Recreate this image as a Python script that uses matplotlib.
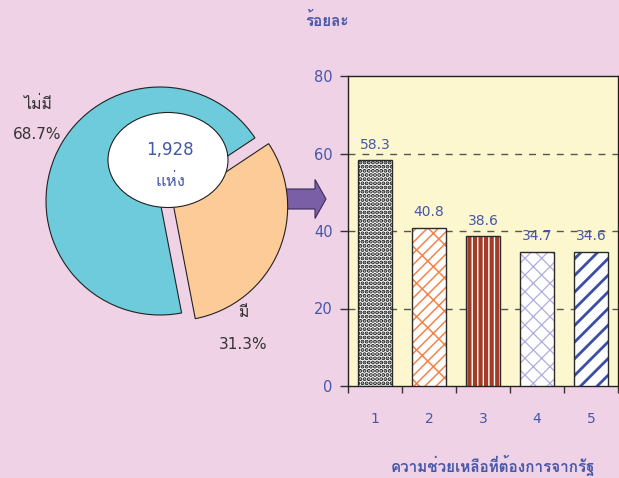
import matplotlib
matplotlib.use("Agg")
import matplotlib.pyplot as plt
import matplotlib.patches as mpatches
from matplotlib import font_manager as fm
from matplotlib.ft2font import FT2Font

# ---------------- data ----------------
pie_labels = ["ไม่มี", "มี"]
pie_values = [68.7, 31.3]
pie_total_label = ["1,928", "แห่ง"]
categories = ["1", "2", "3", "4", "5"]
bar_values = [58.3, 40.8, 38.6, 34.7, 34.6]
y_ticks = [0, 20, 40, 60, 80]
y_title = "ร้อยละ"
x_title = "ความช่วยเหลือที่ต้องการจากรัฐ"

# ---------------- fonts ----------------
thai_font = None
for f in fm.fontManager.ttflist:
    try:
        ft = FT2Font(f.fname)
        if ft.get_char_index(0x0E21) and ft.get_char_index(0x0E48):
            thai_font = f.name
            break
    except Exception:
        pass
fams = ["DejaVu Sans"]
if thai_font:
    fams = ["DejaVu Sans", thai_font]
plt.rcParams["font.family"] = fams

BG = "#f0d2e7"
PLOT_BG = "#fcf7cf"
BLUE = "#4657a8"
DARK = "#333333"

W, H = 619, 478
fig = plt.figure(figsize=(W / 100, H / 100), dpi=100)
fig.patch.set_facecolor(BG)

# ---------------- pie ----------------
R = 114.0
cx, cy = 160.0, 201.0
pl, pr, pt, pb = 0.0, 300.0, 60.0, 380.0
pax = fig.add_axes([pl / W, 1 - pb / H, (pr - pl) / W, (pb - pt) / H])
pax.axis("off")
pax.set_facecolor("none")
pax.set_zorder(2)

wedges, _ = pax.pie(pie_values, startangle=33.6, counterclock=True,
                    colors=["#6ecbdc", "#fccb97"], explode=[0, 0.13],
                    wedgeprops=dict(edgecolor="#222222", linewidth=0.8))
pax.set_xlim((pl - cx) / R, (pr - cx) / R)
pax.set_ylim((cy - pb) / R, (cy - pt) / R)
pax.set_aspect("auto")

def to_data(px, py):
    return (px - cx) / R, (cy - py) / R

ex, ey = to_data(168, 160)
ell = mpatches.Ellipse((ex, ey), 120 / R, 95 / R, facecolor="white",
                       edgecolor="#222222", linewidth=0.8, zorder=5)
pax.add_patch(ell)
tx, ty = to_data(170, 150)
pax.text(tx, ty, pie_total_label[0], ha="center", va="center", fontsize=12,
         color=BLUE, zorder=6)
tx, ty = to_data(170, 181)
pax.text(tx, ty, pie_total_label[1], ha="center", va="center", fontsize=12,
         color=BLUE, zorder=6)

lx, ly = to_data(37, 104)
pax.text(lx, ly, pie_labels[0], ha="center", va="center", fontsize=11.5, color=DARK)
lx, ly = to_data(37, 135)
pax.text(lx, ly, f"{pie_values[0]}%", ha="center", va="center", fontsize=11, color=DARK)
lx, ly = to_data(243, 313)
pax.text(lx, ly, pie_labels[1], ha="center", va="center", fontsize=11.5, color=DARK)
lx, ly = to_data(243, 345)
pax.text(lx, ly, f"{pie_values[1]}%", ha="center", va="center", fontsize=11, color=DARK)

# ---------------- arrow ----------------
arrow = mpatches.FancyArrow(2.86, (H - 199) / 100, 0.29, 0,
                            width=0.20, head_width=0.39, head_length=0.11,
                            length_includes_head=False,
                            facecolor="#7b5fa6", edgecolor="#3b2b5b",
                            linewidth=0.8, transform=fig.dpi_scale_trans,
                            zorder=1)
fig.patches.append(arrow)

# ---------------- bars ----------------
al, ar, at, ab = 348, 618, 76, 386
ax = fig.add_axes([al / W, 1 - ab / H, (ar - al) / W, (ab - at) / H])
ax.set_facecolor(PLOT_BG)
ax.set_zorder(3)
x = list(range(1, len(categories) + 1))

styles = [
    dict(hatch="....", color="#151515", lw=2.0),
    dict(hatch="///\\", color="#f3844a", lw=1.1),
    dict(hatch="|||", color="#a33c26", lw=3.0),
    dict(hatch="xx", color="#aeaedc", lw=0.9),
    dict(hatch="//", color="#3a4ea6", lw=2.0),
]
for xi, v, st in zip(x, bar_values, styles):
    plt.rcParams["hatch.linewidth"] = st["lw"]
    ax.bar(xi, v, width=0.63, facecolor="white", edgecolor=st["color"],
           hatch=st["hatch"], linewidth=0, zorder=3)
    ax.bar(xi, v, width=0.63, fill=False, edgecolor="#2a2a2a",
           linewidth=1.0, zorder=4)
    ax.text(xi, v + 2.2, f"{v}", ha="center", va="bottom", fontsize=10,
            color=BLUE, zorder=5)

ax.set_xlim(0.5, len(categories) + 0.5)
ax.set_ylim(0, 80)
ax.set_yticks(y_ticks)
ax.set_yticklabels([str(t) for t in y_ticks], color=BLUE, fontsize=10.5)
ax.tick_params(axis="y", length=6, width=1, color="#333333", pad=5)
ax.set_xticks(x)
ax.set_xticklabels(categories, color=BLUE, fontsize=10)
ax.tick_params(axis="x", which="major", length=0, pad=19)
ax.set_xticks([i + 0.5 for i in range(0, len(categories) + 1)], minor=True)
ax.tick_params(axis="x", which="minor", length=5, width=1, color="#333333")

for yv in y_ticks[1:-1]:
    ax.axhline(yv, color="#555555", linewidth=1.0, linestyle=(0, (5, 5)), zorder=1)

for s in ax.spines.values():
    s.set_color("#222222")
    s.set_linewidth(1.0)

fig.text(327 / W, 1 - 20 / H, y_title, ha="center", va="center",
         fontsize=11, color=BLUE, fontweight="bold")
fig.text(493 / W, 1 - 466 / H, x_title, ha="center", va="center",
         fontsize=11, color=BLUE, fontweight="bold")

fig.savefig("out.png", dpi=100, facecolor=BG)
